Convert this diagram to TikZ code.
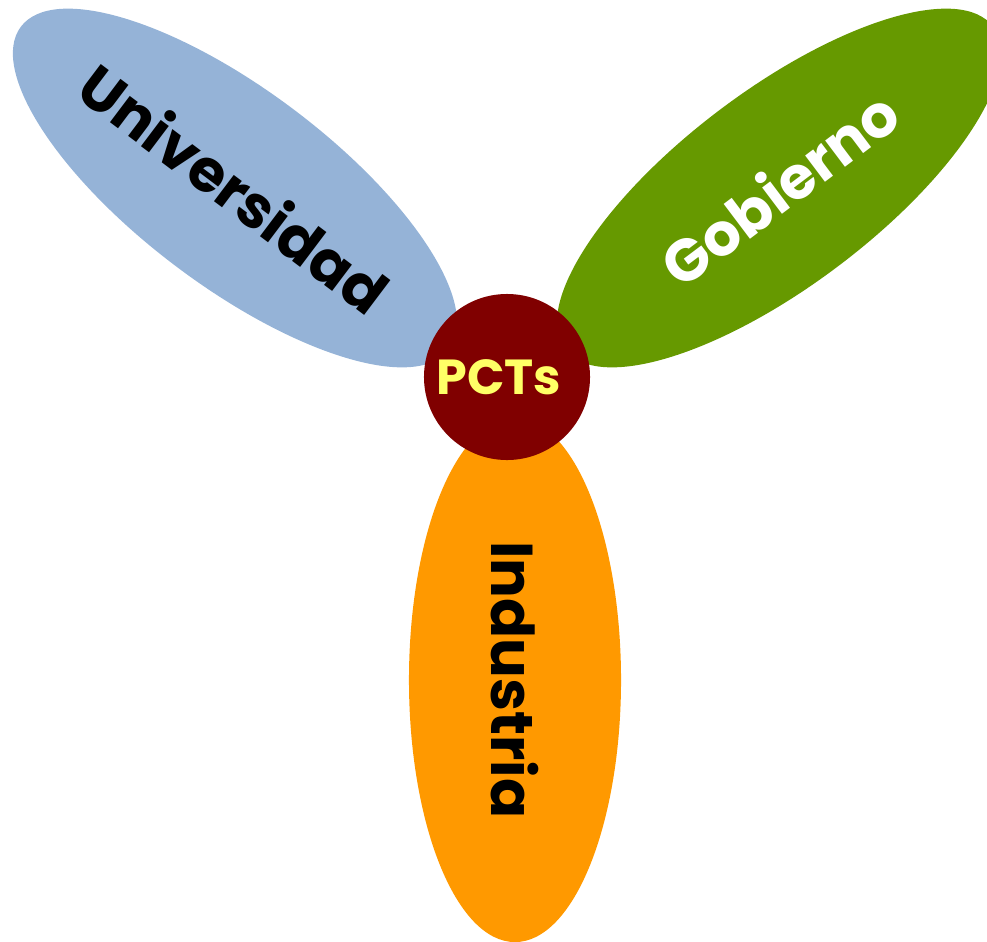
\documentclass[tikz,border=0pt]{standalone}
\usepackage{fontspec}
\setmainfont{Poppins}
\usetikzlibrary{shapes.geometric}
\definecolor{uniblue}{RGB}{149,179,215}
\definecolor{govgreen}{RGB}{102,153,0}
\definecolor{indorange}{RGB}{255,153,0}
\definecolor{pctred}{RGB}{128,0,0}
\definecolor{pctyellow}{RGB}{255,255,102}
\begin{document}
\begin{tikzpicture}[x=0.025cm,y=-0.025cm]
        \tikzset{petal/.style={ellipse,draw=none,inner sep=0pt,
            minimum width=13.4cm,minimum height=4.9cm,
            font=\fontsize{42}{42}\selectfont\bfseries},
          hub/.style={circle,fill=pctred,draw=none,minimum size=4.15cm,inner sep=0pt,
            text=pctyellow,font=\fontsize{35}{35}\selectfont\bfseries}}
        \useasboundingbox (0,0) rectangle (987,941);
        \begin{scope}
          \clip (0,0) rectangle (987,941);
          \node[petal,fill=uniblue,rotate=-37] (uni) at (235,188) {Universidad};
          \node[petal,fill=govgreen,text=white,rotate=37] (gob) at (779,188) {Gobierno};
          \node[petal,fill=indorange,rotate=-90,minimum width=13.1cm,minimum height=5.3cm] (ind) at (515,680) {Industria};
        \end{scope}
        \node[hub] (pct) at (507,377) {\hspace*{-0.4cm}PCTs};
      \end{tikzpicture}
\end{document}
